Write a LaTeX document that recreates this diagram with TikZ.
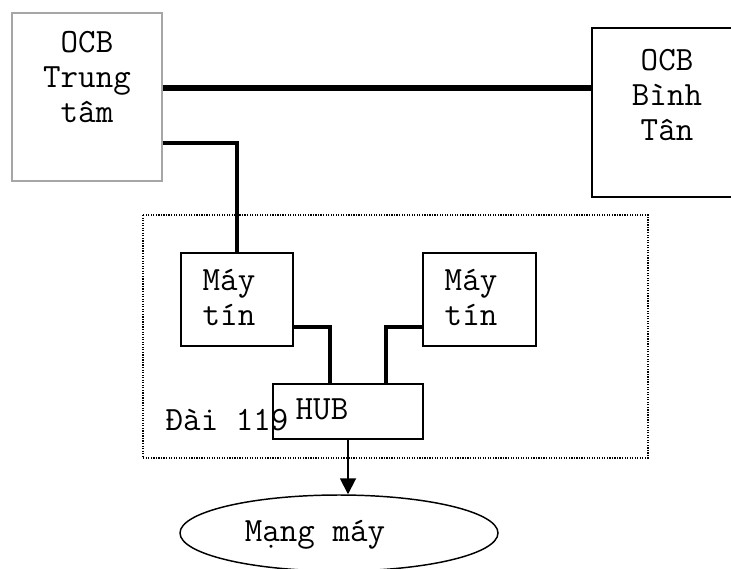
\documentclass[tikz,border=0pt]{standalone}
\usepackage{fontspec}
\setmainfont{Latin Modern Mono}
\usetikzlibrary{arrows.meta,shapes.geometric}
\begin{document}
\begin{tikzpicture}[x=0.75pt, y=-0.75pt,
    box/.style={draw, line width=1.1pt, minimum width=#1},
    lbl/.style={align=center, font=\fontsize{25.5}{26.25}\selectfont},
    wire/.style={line width=2.4pt}]
    \useasboundingbox (0,0) rectangle (731,568);
    \clip (0,0) rectangle (731,568);

    \node[box=112.5pt, draw=gray!70, minimum height=126pt] (tt) at (87, 97) {};
    \node[box=112.5pt, minimum height=126.75pt] (bt) at (667, 112.5) {};
    \node[lbl] (ttl) at (87, 77) {OCB\\Trung\\tâm};
    \node[lbl] (btl) at (667, 95) {OCB\\Bình\\Tân};

    \draw[densely dotted, line width=0.9pt] (143, 215) rectangle (648, 458);

    \node[box=84pt, minimum height=69.75pt] (pcl) at (237, 299.5) {};
    \node[box=84.75pt, minimum height=69.75pt] (pcr) at (479.5, 299.5) {};
    \node[box=112.5pt, minimum height=41.25pt] (hub) at (348, 411.5) {};
    \node[lbl] (pcll) at (229, 298) {Máy\\tín};
    \node[lbl] (pcrl) at (471, 298) {Máy\\tín};
    \node[lbl] (hubl) at (322, 409) {HUB};
    \node[lbl] (dai) at (227, 420) {Đài 119};

    \node[draw, ellipse, line width=1.1pt, minimum width=238.5pt, minimum height=57pt] (net) at (339, 533) {};
    \node[lbl] (netl) at (315, 535) {Mạng máy};

    \coordinate (trunk) at (162, 88);
    \coordinate (link) at (237, 143);
    \coordinate (lanl) at (330, 327);
    \coordinate (lanr) at (386, 327);

    \draw[line width=3.8pt] (tt.east |- trunk) -- (bt.west |- trunk);
    \draw[wire] (tt.east |- link) -| (pcl.north);
    \draw[wire] (pcl.east |- lanl) -| (lanl |- hub.north);
    \draw[wire] (pcr.west |- lanr) -| (lanr |- hub.north);
    \draw[line width=1.4pt, -{Triangle[width=12pt, length=12pt]}] (hub.south) -- (hub.south |- net.north);
\end{tikzpicture}
\end{document}
